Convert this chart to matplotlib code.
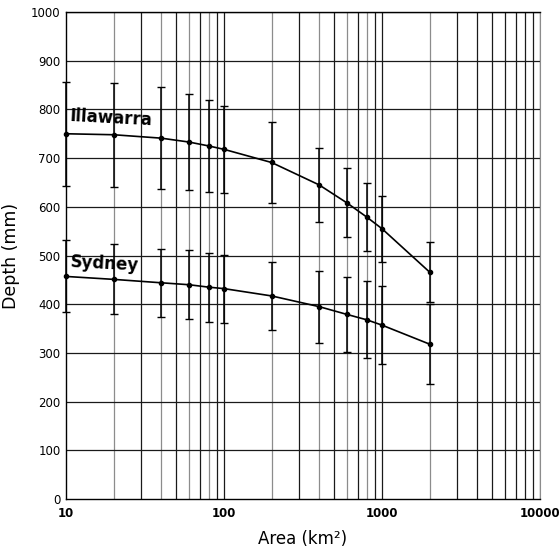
import matplotlib.pyplot as plt
from matplotlib.ticker import FixedLocator, NullFormatter

# catchment area (km2) and design rainfall depth (mm) with spread
area = [10, 20, 40, 60, 80, 100, 200, 400, 600, 800, 1000, 2000]
illawarra = [750, 748, 741, 733, 725, 718, 691, 645, 608, 579, 555, 466]
illawarra_err = [107, 107, 105, 99, 95, 90, 83, 76, 71, 70, 68, 61]
sydney = [457, 451, 444, 440, 435, 432, 417, 395, 379, 368, 357, 318]
sydney_err = [74, 72, 70, 71, 71, 70, 70, 74, 77, 79, 80, 82]

x_ticks = [10, 100, 1000, 10000]
x_minor = [m * 10 ** d for d in range(1, 4) for m in range(2, 10)]
y_ticks = list(range(0, 1001, 100))

fig = plt.figure(figsize=(5.6, 5.54), dpi=100)
ax = fig.add_axes([0.1179, 0.0993, 0.8464, 0.879])

ax.set_xscale("log")
ax.set_xlim(10, 10000)
ax.set_ylim(0, 1000)

# grid lines: black, with the data columns a bit lighter
for x in x_minor:
    col = "#8c8c8c" if x in area else "#1a1a1a"
    ax.axvline(x, color=col, lw=0.9, zorder=1)
for x in x_ticks[1:]:
    ax.axvline(x, color="#1a1a1a", lw=0.9, zorder=1)
for y in y_ticks[1:]:
    ax.axhline(y, color="#1a1a1a", lw=0.9, zorder=1)

for vals, errs in [(illawarra, illawarra_err), (sydney, sydney_err)]:
    lines = ax.errorbar(area, vals, yerr=errs, color="black", lw=1.2,
                        elinewidth=1.1, capsize=3.2, capthick=1.0,
                        marker="o", ms=3, zorder=3)
    for artist in lines.get_children():
        artist.set_clip_on(False)

ax.text(10.5, 768, "Illawarra", fontsize=12, fontweight="bold", rotation=-3,
        ha="left", va="baseline", zorder=4)
ax.text(10.5, 470, "Sydney", fontsize=12, fontweight="bold", rotation=-3,
        ha="left", va="baseline", zorder=4)

ax.xaxis.set_major_locator(FixedLocator(x_ticks))
ax.xaxis.set_minor_formatter(NullFormatter())
ax.set_xticklabels([str(v) for v in x_ticks], fontweight="bold", fontsize=8.5)
ax.set_yticks(y_ticks)
ax.set_yticklabels([str(v) for v in y_ticks], fontsize=8.5)
ax.tick_params(which="both", length=0, pad=4)
ax.tick_params(axis="x", pad=6)

ax.set_xlabel("Area (km²)", fontsize=12)
ax.xaxis.set_label_coords(0.5, -0.063)
ax.set_ylabel("Depth (mm)", fontsize=12.5)
ax.yaxis.set_label_coords(-0.097, 0.5)

for side in ["left", "top", "bottom"]:
    ax.spines[side].set_color("black")
    ax.spines[side].set_linewidth(1.0)
ax.spines["right"].set_color("#8c8c8c")

fig.savefig("out.png", dpi=100)
